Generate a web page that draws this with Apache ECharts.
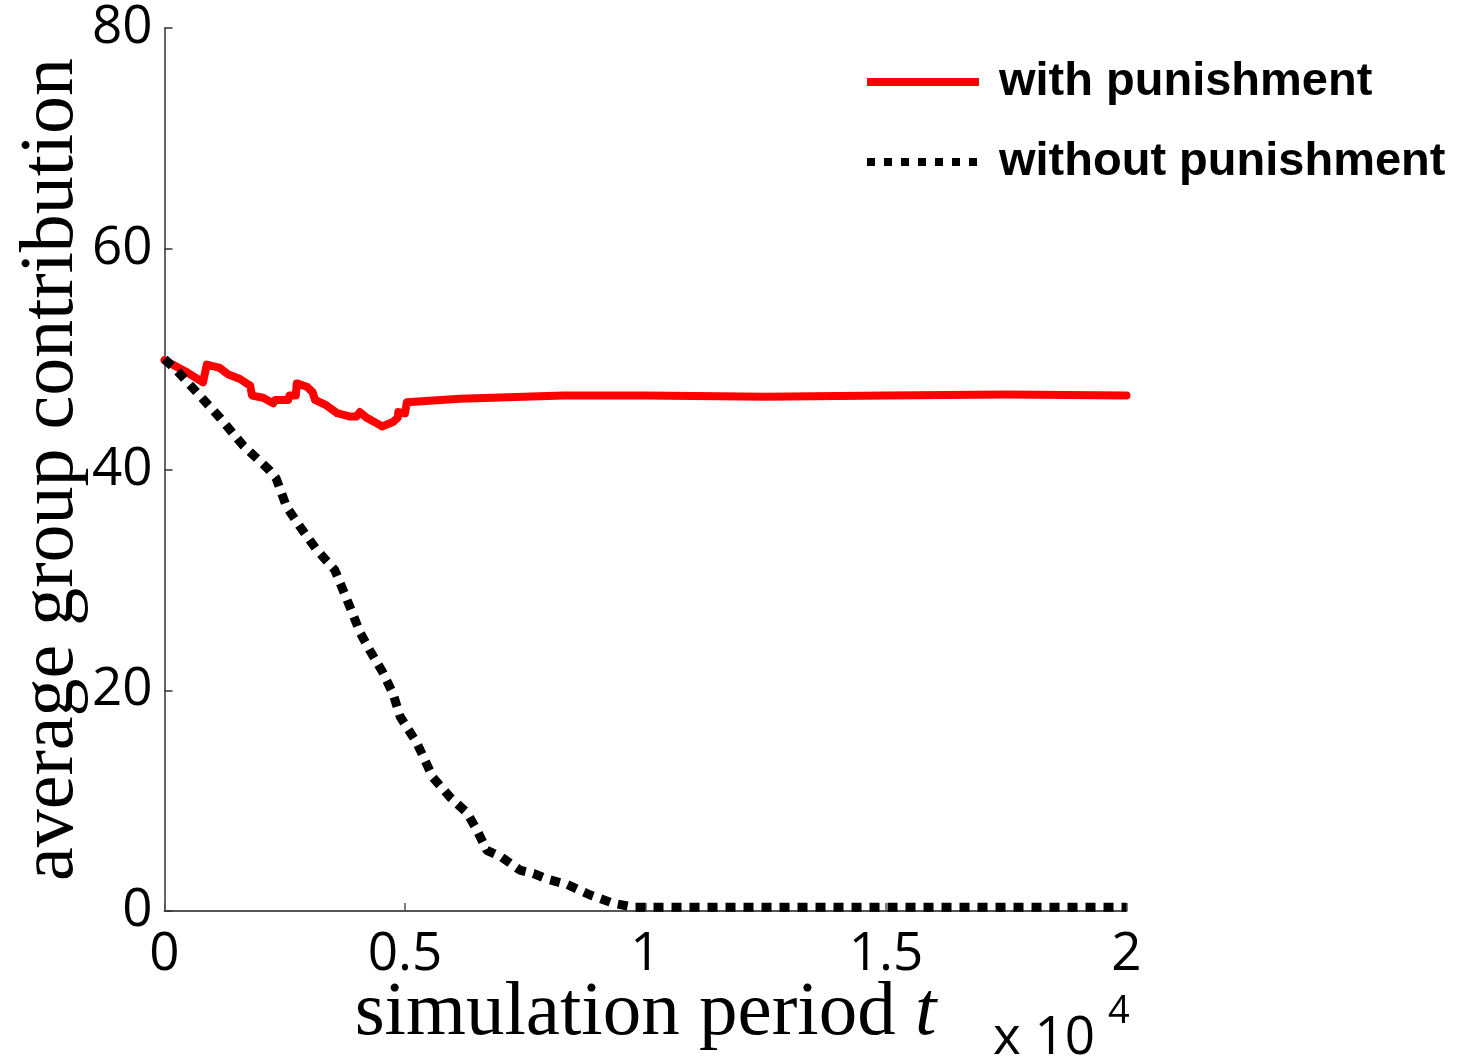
<!DOCTYPE html>
<html>
<head>
<meta charset="utf-8">
<script src="https://cdn.jsdelivr.net/npm/echarts@6/dist/echarts.min.js"></script>
<style>
  html, body { margin: 0; padding: 0; background: #fff; }
  #chart { width: 1463px; height: 1059px; }
</style>
</head>
<body>
<div id="chart"></div>
<script>
// Simulation period t (in periods) and average group contribution per series
const punT = [0, 470, 800, 880, 1150, 1330, 1570, 1780, 1820, 2050, 2260, 2300, 2570, 2600, 2730, 2750, 2960, 3080, 3130, 3370, 3590, 3860, 3990, 4060, 4200, 4410, 4520, 4750, 4850, 4860, 5000, 5040, 6140, 8300, 10000, 12500, 15000, 17500, 20000];
const punV = [49.9, 48.8, 47.9, 49.5, 49.2, 48.6, 48.2, 47.6, 46.7, 46.5, 46.0, 46.3, 46.3, 46.7, 46.7, 47.8, 47.5, 47.0, 46.3, 45.8, 45.1, 44.8, 44.8, 45.2, 44.7, 44.2, 43.9, 44.3, 44.7, 45.2, 45.1, 46.1, 46.4, 46.7, 46.7, 46.6, 46.7, 46.8, 46.7];

const noPunT = [0, 250, 1150, 1630, 2190, 2320, 2540, 2820, 3170, 3540, 3860, 4070, 4270, 4540, 4750, 4900, 5250, 5580, 5940, 6290, 6500, 6700, 7000, 7390, 7670, 7950, 8370, 8850, 9330, 9750, 10500, 15000, 20000];
const noPunV = [50.0, 49.0, 44.7, 42.2, 39.9, 39.2, 36.6, 34.8, 32.7, 30.9, 27.5, 25.2, 23.6, 21.6, 19.7, 17.6, 15.2, 12.1, 10.3, 8.9, 7.3, 5.5, 4.9, 3.7, 3.4, 2.9, 2.4, 1.45, 0.7, 0.35, 0.35, 0.35, 0.35];

const xTickLabels = ['0', '0.5', '1', '1.5', '2'];
const yTickLabels = ['0', '20', '40', '60', '80'];

const seriesNames = ['with punishment', 'without punishment'];

const zip = (xs, ys) => xs.map((x, i) => [x, ys[i]]);

const chart = echarts.init(document.getElementById('chart'), null, { renderer: 'canvas' });

const tickFont = { fontFamily: 'Open Sans', fontSize: 53, color: '#000' };
const serif = 'Liberation Serif';

chart.setOption({
  animation: false,
  backgroundColor: '#fff',
  grid: {
    left: 164.5, right: 336.5, top: 28, bottom: 148,
    containLabel: false,
    outerBoundsMode: 'none'
  },
  legend: {
    orient: 'vertical',
    left: 858,
    top: 52,
    itemWidth: 112,
    itemHeight: 12,
    itemGap: 30,
    itemStyle: { opacity: 0 },
    data: [
      { name: seriesNames[0], lineStyle: { width: 8, type: 'solid', cap: 'butt' } },
      { name: seriesNames[1], lineStyle: { width: 8, type: [8, 9], cap: 'butt' } }
    ],
    textStyle: {
      fontFamily: 'Liberation Sans',
      fontWeight: 'bold',
      fontSize: 47,
      color: '#000',
      lineHeight: 50,
      padding: [0, 0, 0, 15]
    }
  },
  xAxis: {
    type: 'value',
    min: 0,
    max: 20000,
    interval: 5000,
    name: '{n|simulation period }{t|t}',
    nameLocation: 'middle',
    nameGap: 64,
    nameMoveOverlap: false,
    nameTextStyle: {
      color: '#000',
      rich: {
        n: { fontFamily: serif, fontSize: 77, color: '#000' },
        t: { fontFamily: serif, fontSize: 77, fontStyle: 'italic', color: '#000' }
      }
    },
    axisLine: { show: true, lineStyle: { color: '#555', width: 2 } },
    axisTick: { show: true, inside: true, length: 8, lineStyle: { color: '#555', width: 1.5 } },
    splitLine: { show: false },
    axisLabel: Object.assign({}, tickFont, {
      margin: 17,
      formatter: (v) => xTickLabels[Math.round(v / 5000)]
    })
  },
  yAxis: {
    type: 'value',
    min: 0,
    max: 80,
    interval: 20,
    name: 'average group contribution',
    nameLocation: 'middle',
    nameRotate: 90,
    nameGap: 74,
    nameMoveOverlap: false,
    nameTextStyle: { fontFamily: serif, fontSize: 76, color: '#000' },
    axisLine: { show: true, lineStyle: { color: '#333', width: 1.5 } },
    axisTick: { show: true, inside: true, length: 8, lineStyle: { color: '#333', width: 1.5 } },
    splitLine: { show: false },
    axisLabel: Object.assign({}, tickFont, {
      margin: 12,
      formatter: (v) => yTickLabels[Math.round(v / 20)]
    })
  },
  graphic: [
    {
      type: 'text',
      left: 993,
      top: 1012,
      style: { text: 'x 10', fontFamily: 'Open Sans', fontSize: 53, fill: '#000' }
    },
    {
      type: 'text',
      left: 1108,
      top: 993,
      style: { text: '4', fontFamily: 'Open Sans', fontSize: 38, fill: '#000' }
    }
  ],
  series: [
    {
      name: seriesNames[0],
      type: 'line',
      data: zip(punT, punV),
      showSymbol: false,
      symbol: 'none',
      z: 2,
      lineStyle: { color: '#ff0000', width: 8, join: 'round', cap: 'round' },
      itemStyle: { color: '#ff0000' }
    },
    {
      name: seriesNames[1],
      type: 'line',
      data: zip(noPunT, noPunV),
      showSymbol: false,
      symbol: 'none',
      z: 3,
      lineStyle: { color: '#000', width: 9, type: [10, 8], cap: 'butt' },
      itemStyle: { color: '#000' }
    }
  ]
});
</script>
</body>
</html>
